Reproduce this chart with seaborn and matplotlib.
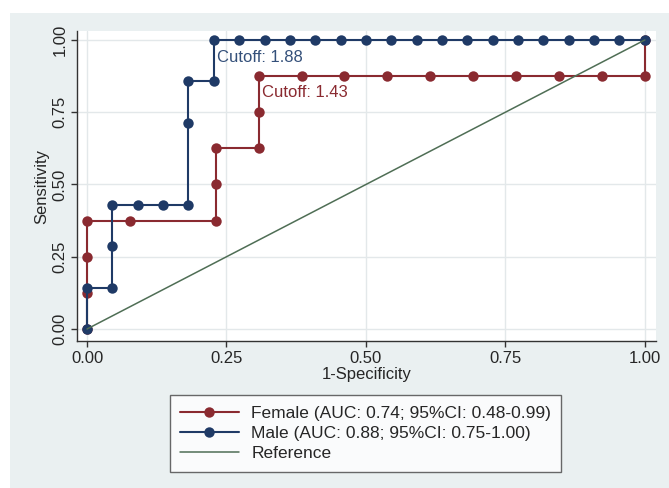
import matplotlib
matplotlib.use("Agg")
import matplotlib.pyplot as plt
import seaborn as sns
import pandas as pd
from matplotlib.patches import Rectangle

# ROC points (female: 13 neg / 8 pos, male: 22 neg / 7 pos)
female_fpr = [0, 0, 0, 0, 1/13, 3/13, 3/13, 3/13, 4/13, 4/13, 4/13, 5/13, 6/13, 7/13,
              8/13, 9/13, 10/13, 11/13, 12/13, 1, 1]
female_tpr = [0, 1/8, 2/8, 3/8, 3/8, 3/8, 4/8, 5/8, 5/8, 6/8, 7/8, 7/8, 7/8, 7/8,
              7/8, 7/8, 7/8, 7/8, 7/8, 7/8, 1]
male_fpr = [0, 0, 1/22, 1/22, 1/22, 2/22, 3/22, 4/22, 4/22, 4/22, 5/22, 5/22] + \
           [k/22 for k in range(6, 23)]
male_tpr = [0, 1/7, 1/7, 2/7, 3/7, 3/7, 3/7, 3/7, 5/7, 6/7, 6/7, 1] + [1] * 17
ref_x = [0, 1]
ref_y = [0, 1]

female_label = "Female (AUC: 0.74; 95%CI: 0.48-0.99)"
male_label = "Male (AUC: 0.88; 95%CI: 0.75-1.00)"
ticks = [0, 0.25, 0.5, 0.75, 1.0]

maroon = "#8a2a30"
navy = "#1f3a66"
green = "#4f6e55"
bg = "#eaf0f1"

sns.set_style("white")
plt.rcParams['font.family'] = ['Liberation Sans', 'DejaVu Sans']

fig = plt.figure(figsize=(6.69, 4.88), dpi=100)
fig.patch.set_facecolor("white")
fig.add_artist(Rectangle((10/669, 0), 1, 1 - 13/488, transform=fig.transFigure,
                         facecolor=bg, edgecolor="none", zorder=-10))

ax = fig.add_axes([77/669, 1 - 341/488, 579/669, 310/488])
ax.set_facecolor("white")

df_f = pd.DataFrame({"x": female_fpr, "y": female_tpr})
df_m = pd.DataFrame({"x": male_fpr, "y": male_tpr})

sns.lineplot(data=df_f, x="x", y="y", sort=False, estimator=None, ax=ax,
             color=maroon, marker="o", markersize=7.5, markeredgewidth=0,
             linewidth=1.5, label=female_label)
sns.lineplot(data=df_m, x="x", y="y", sort=False, estimator=None, ax=ax,
             color=navy, marker="o", markersize=7.5, markeredgewidth=0,
             linewidth=1.5, label=male_label)
ax.plot(ref_x, ref_y, color=green, linewidth=1.1, label="Reference")

ax.text(0.233, 0.94, "Cutoff: 1.88", color="#34507a", fontsize=12, va="center")
ax.text(0.314, 0.817, "Cutoff: 1.43", color="#8a2a30", fontsize=12, va="center")

ax.set_xlim(-0.018, 1.02)
ax.set_ylim(-0.0415, 1.031)
ax.set_xticks(ticks)
ax.set_yticks(ticks)
ax.set_xticklabels([f"{t:.2f}" for t in ticks], fontsize=12)
ax.set_yticklabels([f"{t:.2f}" for t in ticks], fontsize=12, rotation=90, va="center")
ax.tick_params(axis="both", direction="out", length=4, width=1, color="#333333",
               left=True, bottom=True, pad=3)
ax.grid(True, color="#e3e8ea", linewidth=1)
ax.set_axisbelow(True)
for s in ["top", "right"]:
    ax.spines[s].set_visible(False)
for s in ["left", "bottom"]:
    ax.spines[s].set_color("#333333")
    ax.spines[s].set_linewidth(1)

ax.set_xlabel("1-Specificity", fontsize=12, labelpad=1)
ax.set_ylabel("Sensitivity", fontsize=12, labelpad=2)

leg = ax.legend(loc="center", bbox_to_anchor=(365.5/669, 1 - 433.5/488),
                bbox_transform=fig.transFigure, fontsize=12.5, frameon=True,
                fancybox=False, edgecolor="#444444", handlelength=3.4,
                labelspacing=0.3, borderpad=0.6, handletextpad=0.7,
                borderaxespad=0)
leg.get_frame().set_linewidth(1)

fig.savefig("out.png", dpi=100, facecolor=fig.get_facecolor())
